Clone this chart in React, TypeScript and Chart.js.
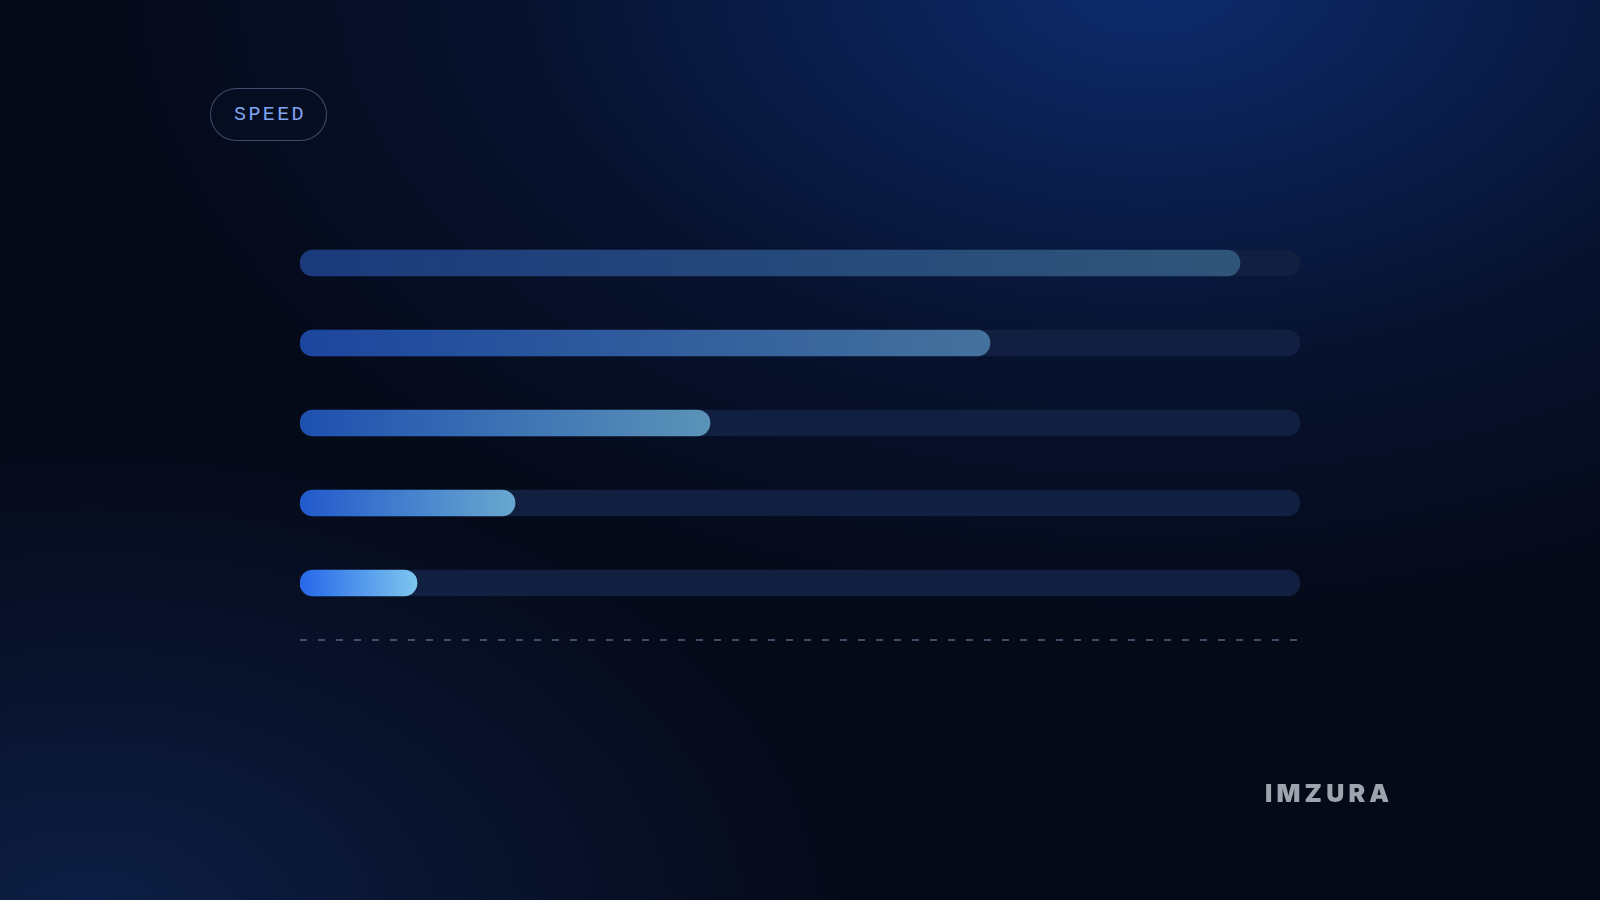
import React, { useEffect, useRef } from "react";
import { Chart, registerables } from "chart.js";

Chart.register(...registerables);

// ---- data ----
const categories = ["Tier 1", "Tier 2", "Tier 3", "Tier 4", "Tier 5"];
const speedValues = [94, 69, 41, 21.5, 11.7];
const trackValues = [100, 100, 100, 100, 100];
const axisMax = 100;

// ---- styles ----
const barLeftColors = ["#1b3a7c", "#1c469e", "#1e50b0", "#2259cc", "#2767ea"];
const barRightColors = ["#2f5679", "#44729c", "#5b93b8", "#68a8cf", "#7dc6ee"];
const trackColor = "#111f40";

const dashPlugin = {
  id: "baselineDash",
  beforeDatasetsDraw(chart: any) {
    const { ctx, chartArea } = chart;
    if (!chartArea) return;
    const y = Math.round(chartArea.bottom + 17);
    ctx.save();
    ctx.strokeStyle = "rgba(70,82,110,0.95)";
    ctx.lineWidth = 2;
    ctx.setLineDash([7, 11]);
    ctx.beginPath();
    ctx.moveTo(chartArea.left, y);
    ctx.lineTo(chartArea.right, y);
    ctx.stroke();
    ctx.restore();
  },
};

export default function App() {
  const canvasRef = useRef<HTMLCanvasElement | null>(null);

  useEffect(() => {
    document.body.style.margin = "0";
    const canvas = canvasRef.current;
    if (!canvas) return;
    const chart = new Chart(canvas, {
      type: "bar",
      data: {
        labels: categories,
        datasets: [
          {
            label: "Speed",
            data: speedValues,
            order: 1,
            grouped: false,
            barThickness: 26,
            borderRadius: 13,
            borderSkipped: false,
            backgroundColor: (c: any) => {
              const chartObj = c.chart;
              const i = c.dataIndex ?? 0;
              if (!chartObj.chartArea || c.type !== "data") return barLeftColors[i];
              const xs = chartObj.scales.x;
              const x0 = xs.getPixelForValue(0);
              const x1 = xs.getPixelForValue(speedValues[i]);
              const g = chartObj.ctx.createLinearGradient(x0, 0, x1, 0);
              g.addColorStop(0, barLeftColors[i]);
              g.addColorStop(1, barRightColors[i]);
              return g;
            },
          } as any,
          {
            label: "Track",
            data: trackValues,
            order: 2,
            grouped: false,
            barThickness: 26,
            borderRadius: 13,
            borderSkipped: false,
            backgroundColor: trackColor,
          } as any,
        ],
      },
      options: {
        indexAxis: "y",
        animation: false,
        responsive: true,
        maintainAspectRatio: false,
        layout: { padding: { left: 300, right: 300, top: 223, bottom: 277 } },
        scales: {
          x: { display: false, min: 0, max: axisMax },
          y: { display: false },
        },
        plugins: {
          legend: { display: false },
          tooltip: { enabled: false },
        },
      } as any,
      plugins: [dashPlugin],
    });
    return () => chart.destroy();
  }, []);

  return (
    <div
      style={{
        position: "fixed",
        left: 0,
        top: 0,
        width: 1600,
        height: 900,
        overflow: "hidden",
        background:
          "radial-gradient(ellipse 1050px 640px at 1150px -20px, rgba(13,44,110,1) 0%, rgba(11,36,92,0.8) 30%, rgba(9,26,68,0.5) 60%, rgba(5,11,28,0) 100%)," +
          "radial-gradient(ellipse 760px 480px at 90px 920px, rgba(13,31,70,1) 0%, rgba(11,26,60,0.6) 50%, rgba(5,11,28,0) 100%)," +
          "#050a19",
      }}
    >
      <div
        style={{
          position: "absolute",
          left: 210,
          top: 88,
          width: 117,
          height: 53,
          boxSizing: "border-box",
          border: "1px solid rgba(110,125,165,0.55)",
          borderRadius: 27,
          background: "rgba(8,14,34,0.5)",
          display: "flex",
          alignItems: "center",
          justifyContent: "center",
          paddingLeft: 3,
          fontFamily: "'Liberation Mono', 'DejaVu Sans Mono', monospace",
          fontSize: 20,
          letterSpacing: 2.4,
          color: "#80a5f2",
        }}
      >
        SPEED
      </div>
      <div style={{ position: "absolute", left: 0, top: 0, width: 1600, height: 900 }}>
        <canvas ref={canvasRef} />
      </div>
      <div
        style={{
          position: "absolute",
          left: 1265,
          top: 775,
          fontFamily: "Inter, 'Liberation Sans', sans-serif",
          fontWeight: 900,
          fontSize: 25,
          lineHeight: "36px",
          letterSpacing: 4.2,
          color: "#9ea3ae",
        }}
      >
        IMZURA
      </div>
    </div>
  );
}
